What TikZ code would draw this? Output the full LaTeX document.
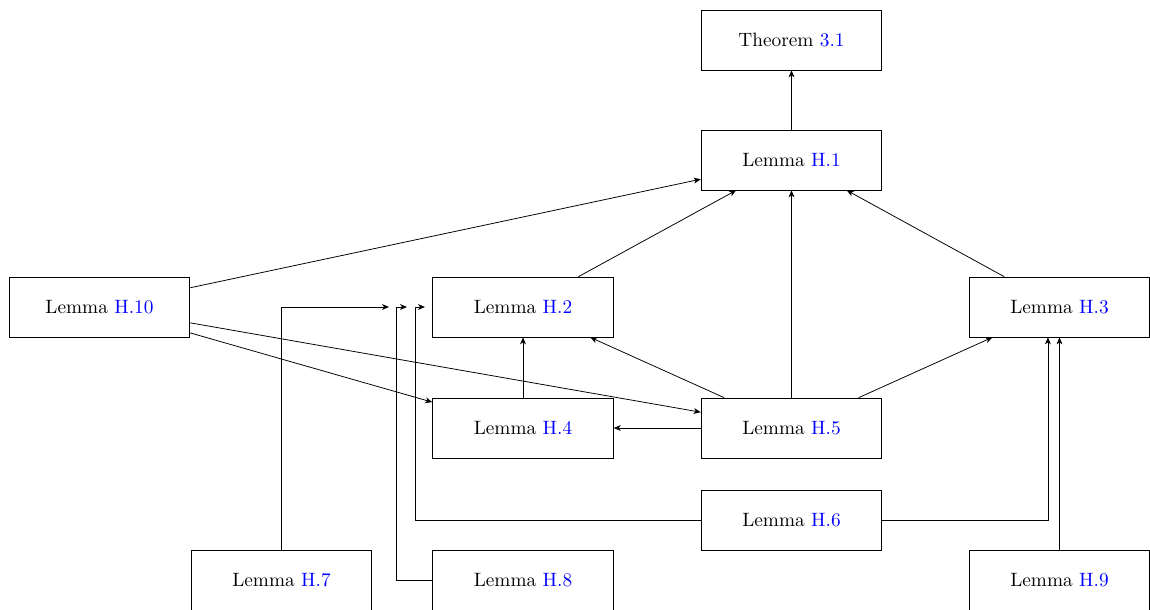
\documentclass[tikz,border=0pt]{standalone}
\usepackage{xcolor}
\usepackage{tikz}
\usetikzlibrary{arrows.meta,calc}

\tikzset{
    lemma/.style={draw, minimum width=3.29cm, minimum height=1.09cm},
    dep/.style={-{Stealth[length=3.6pt,width=3pt,inset=1pt]}},
}
\newcommand{\refb}[1]{\textcolor{blue}{#1}}

\begin{document}
\begin{tikzpicture}[x=0.0182cm, y=-0.0182cm]
    \useasboundingbox (0,0) rectangle (1150,609);
    \clip (0,0) rectangle (1150,609);
    \begin{scope} % Results
        \node[lemma] (thm) at (791.5,40) {Theorem \refb{3.1}};
        \node[lemma] (h1) at (791.5,160) {Lemma \refb{H.1}};
        \node[lemma] (h10) at (99.5,307) {Lemma \refb{H.10}};
        \node[lemma] (h2) at (523,307) {Lemma \refb{H.2}};
        \node[lemma] (h3) at (1059.5,307) {Lemma \refb{H.3}};
        \node[lemma] (h4) at (523,428) {Lemma \refb{H.4}};
        \node[lemma] (h5) at (791.5,428) {Lemma \refb{H.5}};
        \node[lemma] (h6) at (791.5,520) {Lemma \refb{H.6}};
        \node[lemma] (h7) at (281.5,580) {Lemma \refb{H.7}};
        \node[lemma] (h8) at (523,580) {Lemma \refb{H.8}};
        \node[lemma] (h9) at (1059.5,580) {Lemma \refb{H.9}};
    \end{scope}
    \begin{scope}[dep] % Direct dependencies
        \draw (h1) -- (thm);
        \foreach \from in {h10,h2,h3,h5}
            \draw (\from) -- (h1);
        \foreach \to in {h2,h3,h4}
            \draw (h5) -- (\to);
        \draw (h4) -- (h2);
        \draw (h10) -- (h4);
        \draw (h10) -- (h5);
        \draw (h9.north) -- (h3.south);
        \draw (h6.east) -| ([xshift=-6pt]h3.south);
    \end{scope}
    \begin{scope} % Elbow connectors into H.2
        \coordinate (in7) at (389,307);
        \coordinate (in8) at (407,307);
        \coordinate (in6) at (425,307);
        \draw[dep] (h7.north) |- (in7);
        \draw[dep] (h8.west) -| ($(in8)+(-10.5,0)$) -- (in8);
        \draw[dep] (h6.west) -| ($(in6)+(-10,0)$) -- (in6);
    \end{scope}
\end{tikzpicture}
\end{document}
